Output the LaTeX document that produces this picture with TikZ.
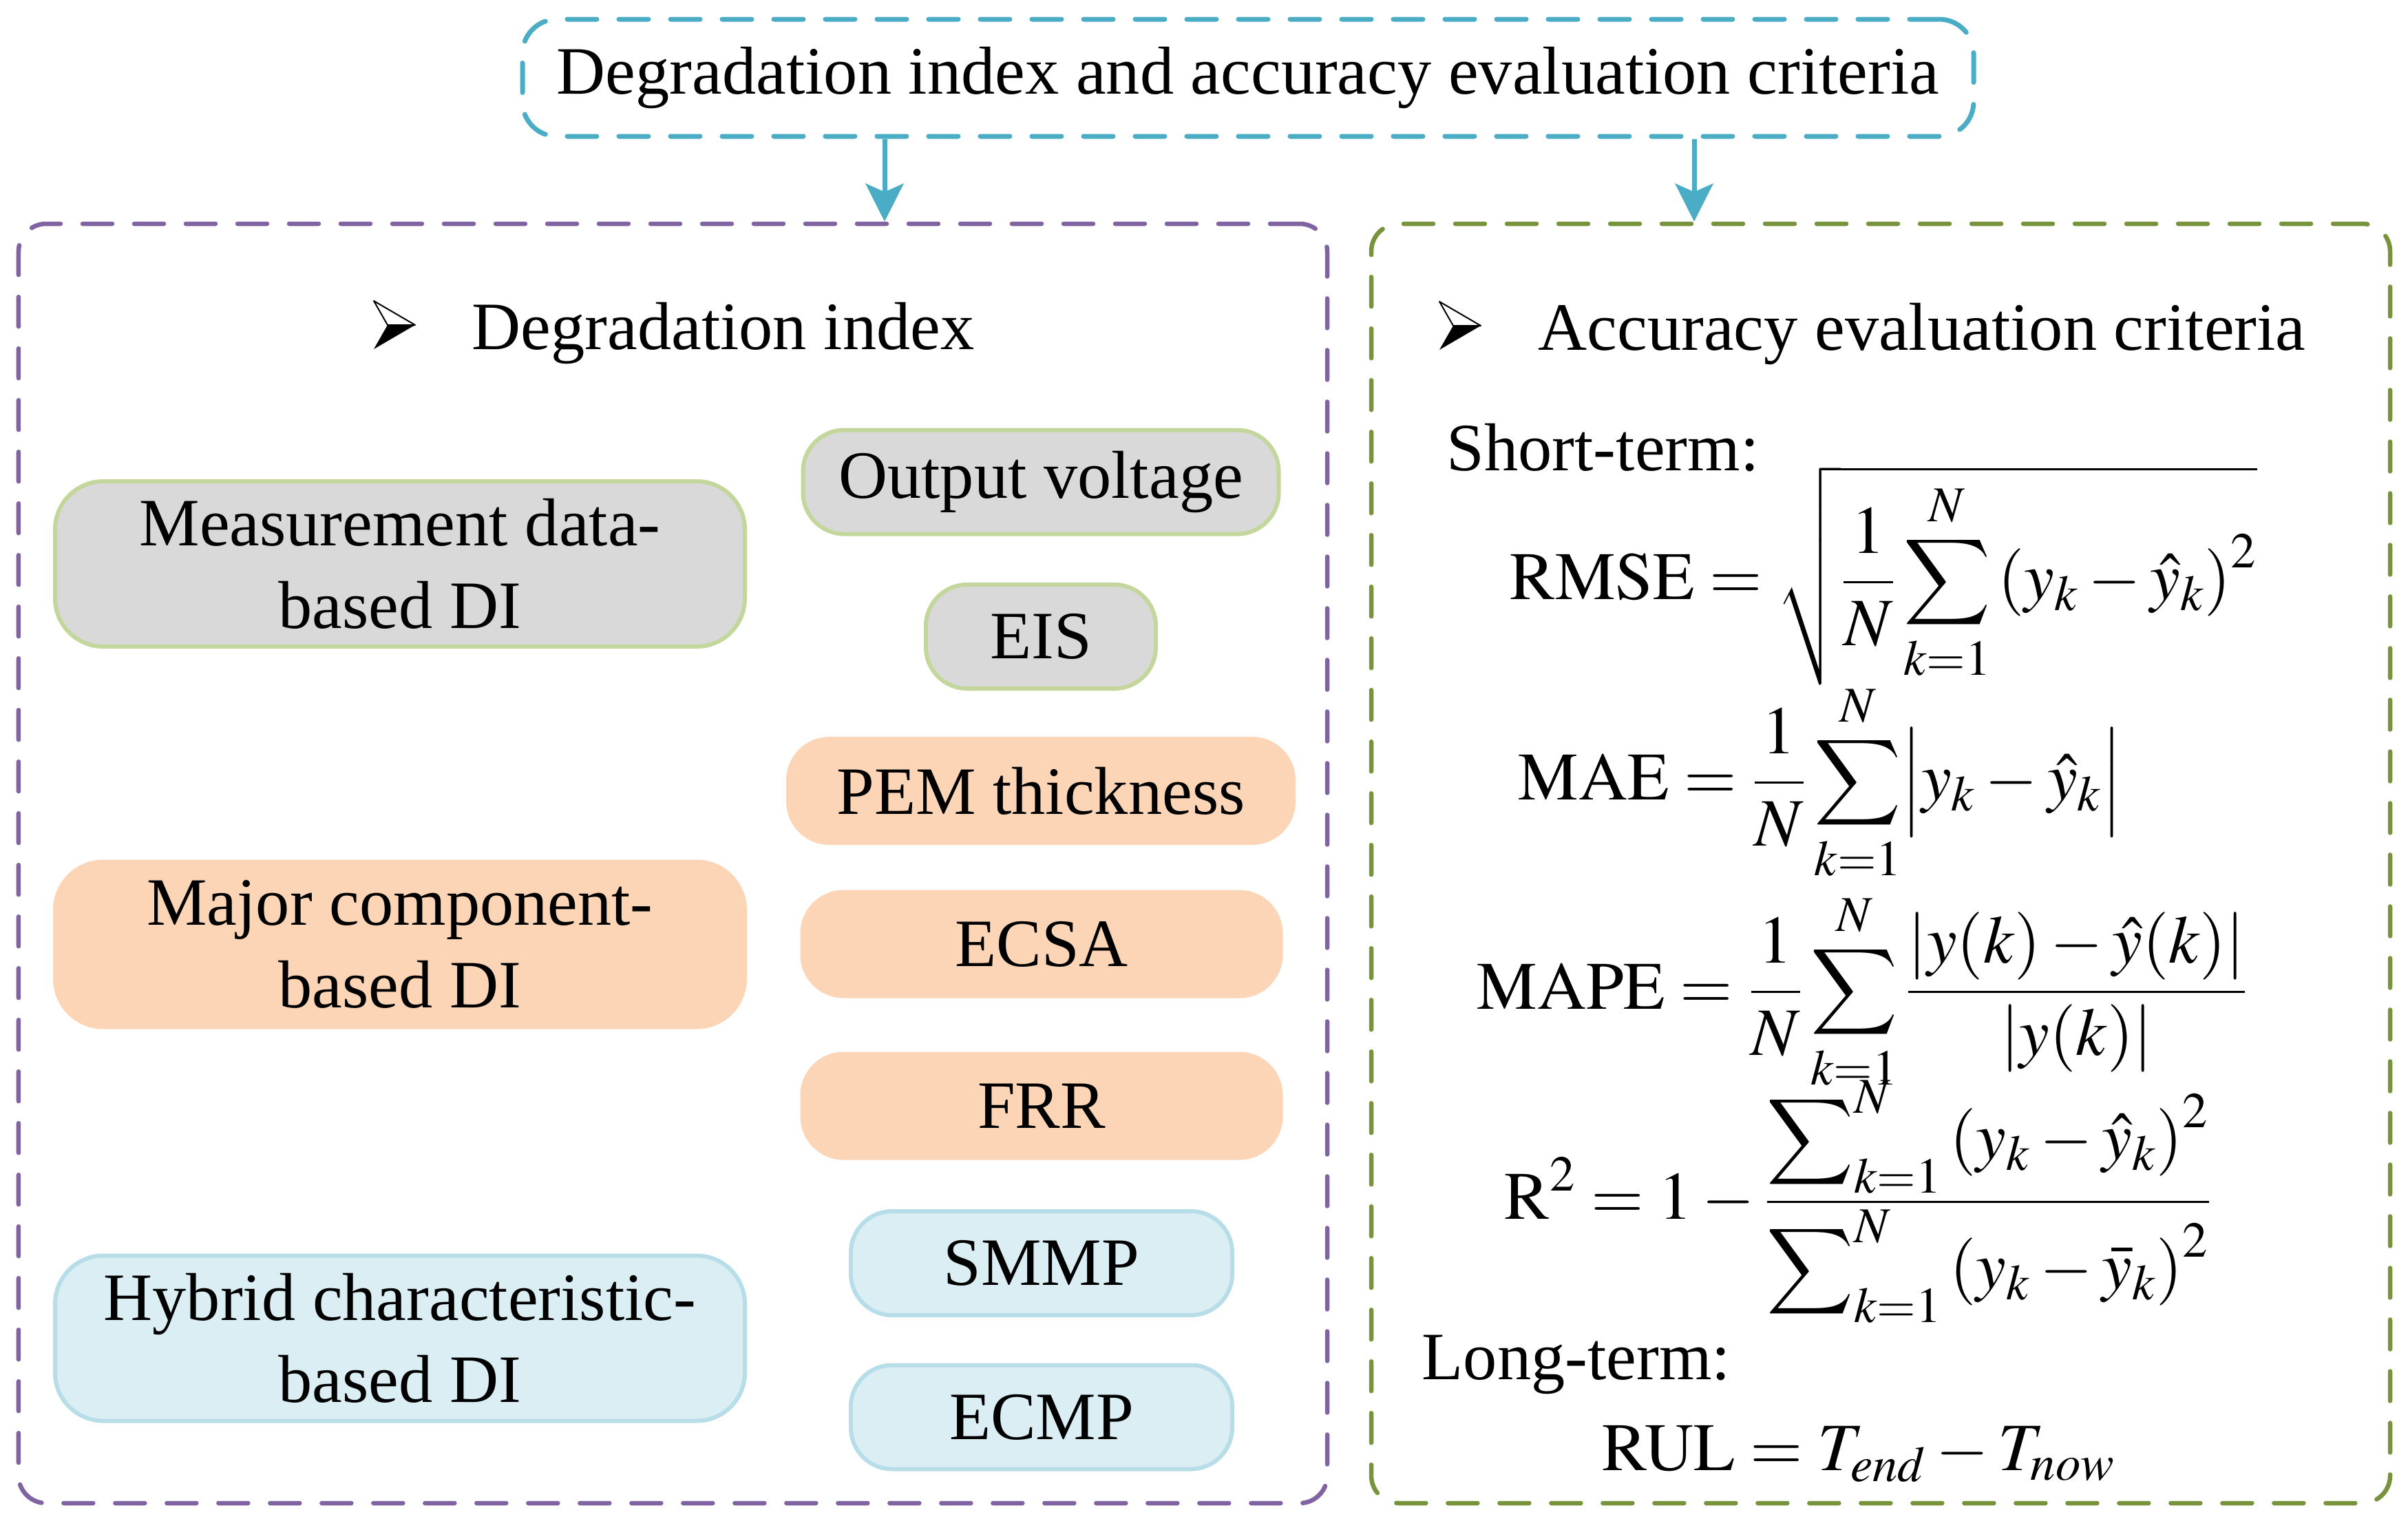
\documentclass[tikz,border=0pt]{standalone}
\usepackage{amsmath}
\usepackage{mathptmx}
\DeclareSymbolFont{largesymbols}{OMX}{lmex}{m}{n}
\usepackage{fontspec}
\setmainfont{Liberation Serif}
\usetikzlibrary{arrows.meta,positioning}

\definecolor{titleblue}{HTML}{4BACC6}
\definecolor{dipurple}{HTML}{8064A2}
\definecolor{aecgreen}{HTML}{77933C}
\definecolor{measgray}{HTML}{D9D9D9}
\definecolor{measedge}{HTML}{C3D69B}
\definecolor{compfill}{HTML}{FBD5B5}
\definecolor{hybfill}{HTML}{DAEEF3}
\definecolor{hybedge}{HTML}{B7DDE8}

\tikzset{
    titlebox/.style={draw=titleblue,line width=0.07cm,line cap=round,dash pattern=on 0.43cm off 0.32cm,
        rounded corners=0.5cm,minimum width=21.08cm,minimum height=1.70cm,inner sep=0pt},
    groupbox/.style={line width=0.065cm,line cap=round,dash pattern=on 0.43cm off 0.32cm,
        rounded corners=0.4cm,minimum height=18.58cm,inner sep=0pt},
    pill/.style={rounded corners=0.6cm,line width=0.06cm,align=center,inner sep=0pt,minimum height=1.51cm},
    measpill/.style={pill,fill=measgray,draw=measedge},
    comppill/.style={pill,fill=compfill,draw=compfill},
    hybpill/.style={pill,fill=hybfill,draw=hybedge},
    bigpill/.style={minimum width=10.02cm,minimum height=2.4cm,rounded corners=0.7cm},
    flow/.style={titleblue,line width=0.07cm,-{Stealth[length=0.55cm,width=0.55cm,inset=0.12cm]}},
    formula/.style={anchor=base west,inner sep=0pt},
    arrowbullet/.pic={
        \fill[black] (0.2,0.35) -- (0.6,0.35) -- (0,0) -- cycle;
        \draw[black,line width=0.02cm,line join=round] (0,0.7) -- (0.6,0.35) -- (0.2,0.35) -- cycle;
    }
}

\begin{document}
\begin{tikzpicture}[font=\fontsize{28}{34}\selectfont]
    \useasboundingbox (0,0) rectangle (34.98,-22.05);

    \node[titlebox] (title) at (18.13,-1.13) {Degradation index and accuracy evaluation criteria};
    \node[groupbox,draw=dipurple,minimum width=19.01cm] (digroup) at (9.775,-12.54) {};
    \node[groupbox,draw=aecgreen,minimum width=14.80cm] (aecgroup) at (27.32,-12.54) {};

    \draw[flow] ([xshift=-5.28cm]title.south) -- ([xshift=-5.28cm]title.south |- digroup.north);
    \draw[flow] ([xshift=6.48cm]title.south) -- ([xshift=6.48cm]title.south |- aecgroup.north);

    % degradation index
    \pic at (5.43,-5.07) {arrowbullet};
    \node[formula] (dihead) at (6.85,-5.07) {Degradation index};

    \node[measpill,bigpill] (meas) at (5.81,-8.19) {Measurement data-\\based DI};
    \node[measpill,minimum width=6.91cm] (outv) at (15.12,-7.0) {Output voltage};
    \node[measpill,minimum width=3.34cm] (eis) at (15.12,-9.245) {EIS};

    \node[comppill,bigpill] (major) at (5.81,-13.715) {Major component-\\based DI};
    \node[comppill,minimum width=7.34cm] (pem) at (15.12,-11.485) {PEM thickness};
    \node[comppill,minimum width=6.95cm] (ecsa) at (15.13,-13.71) {ECSA};
    \node[comppill,minimum width=6.95cm] (frr) at (15.13,-16.06) {FRR};

    \node[hybpill,bigpill] (hybrid) at (5.81,-19.435) {Hybrid characteristic-\\based DI};
    \node[hybpill,minimum width=5.54cm] (smmp) at (15.13,-18.345) {SMMP};
    \node[hybpill,minimum width=5.54cm] (ecmp) at (15.13,-20.58) {ECMP};

    % accuracy evaluation criteria
    \pic at (20.91,-5.08) {arrowbullet};
    \node[formula] (aechead) at (22.34,-5.08) {Accuracy evaluation criteria};

    \node[formula] (short) at (21.01,-6.83) {Short-term:};
    \node[formula] (rmse) at (21.93,-8.70)
        {$\displaystyle\mathrm{RMSE}=\sqrt{\frac{1}{N}\sum_{k=1}^{N}\left(y_k-\hat{y}_k\right)^2}$};
    \node[formula] (mae) at (22.05,-11.61)
        {$\displaystyle\mathrm{MAE}=\frac{1}{N}\sum_{k=1}^{N}\bigl|y_k-\hat{y}_k\bigr|$};
    \node[formula] (mape) at (21.45,-14.65)
        {$\displaystyle\mathrm{MAPE}=\frac{1}{N}\sum_{k=1}^{N}\frac{\lvert y(k)-\hat{y}(k)\rvert}{\lvert y(k)\rvert}$};
    \node[formula] (rsq) at (21.85,-17.70)
        {$\displaystyle\mathrm{R}^{2}=1-\frac{\displaystyle\sum\nolimits_{k=1}^{N}\left(y_k-\hat{y}_k\right)^2}{\displaystyle\sum\nolimits_{k=1}^{N}\left(y_k-\bar{y}_k\right)^2}$};
    \node[formula] (long) at (20.65,-20.03) {Long-term:};
    \node[formula] (rul) at (23.27,-21.35) {$\mathrm{RUL}=T_{end}-T_{now}$};
\end{tikzpicture}
\end{document}
